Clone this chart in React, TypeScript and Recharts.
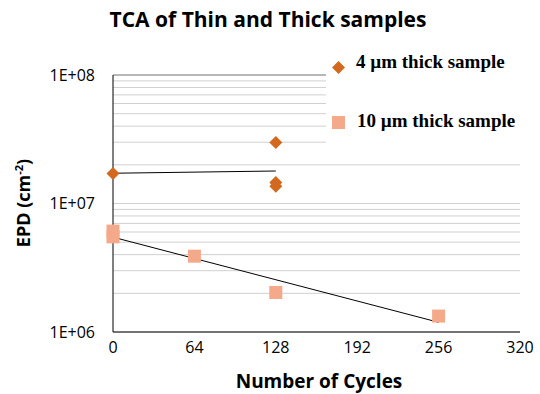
import { ComposedChart, Scatter, XAxis, YAxis, CartesianGrid, ReferenceLine } from 'recharts';

const thin = [
  { cycles: 0, epd: 1.71e7 },
  { cycles: 128, epd: 2.98e7 },
  { cycles: 128, epd: 1.46e7 },
  { cycles: 128, epd: 1.36e7 },
];

const thick = [
  { cycles: 0, epd: 6.1e6 },
  { cycles: 0, epd: 5.5e6 },
  { cycles: 64, epd: 3.89e6 },
  { cycles: 128, epd: 2.03e6 },
  { cycles: 256, epd: 1.33e6 },
];

// exponential trendlines, end points
const thinTrend = [
  { cycles: 0, epd: 1.72e7 },
  { cycles: 128, epd: 1.79e7 },
];

const thickTrend = [
  { cycles: 0, epd: 5.47e6 },
  { cycles: 256, epd: 1.19e6 },
];

const xTicks = [0, 64, 128, 192, 256, 320];
const yTicks = [
  1e6, 2e6, 3e6, 4e6, 5e6, 6e6, 7e6, 8e6, 9e6,
  1e7, 2e7, 3e7, 4e7, 5e7, 6e7, 7e7, 8e7, 9e7,
  1e8,
];

const THIN_COLOR = '#d2691e';
const THICK_COLOR = '#f4a98a';

const fmtY = (v: number) => {
  const e = Math.round(Math.log10(v));
  if (Math.abs(v - Math.pow(10, e)) > 1) return '';
  return `1E+${String(e).padStart(2, '0')}`;
};

const Diamond = (props: any) => {
  const { cx, cy } = props;
  const r = 6.5;
  return <polygon points={`${cx},${cy - r} ${cx + r},${cy} ${cx},${cy + r} ${cx - r},${cy}`} fill={THIN_COLOR} />;
};

const Square = (props: any) => {
  const { cx, cy } = props;
  const s = 13;
  return <rect x={cx - s / 2} y={cy - s / 2} width={s} height={s} fill={THICK_COLOR} />;
};

const Nothing = () => <g />;

export default function App() {
  return (
    <div style={{ position: 'absolute', left: 0, top: 0, width: 540, height: 394, background: '#fff', fontFamily: '"Open Sans", sans-serif' }}>
      <ComposedChart width={540} height={394} margin={{ top: 75, right: 20, left: 0, bottom: 0 }}>
        <CartesianGrid vertical={false} stroke="#d0d0d0" />
        <XAxis
          type="number"
          dataKey="cycles"
          domain={[0, 320]}
          ticks={xTicks}
          height={62}
          tickLine={false}
          axisLine={{ stroke: '#000' }}
          tick={{ fill: '#000', fontSize: 16 }}
          tickMargin={4}
          allowDuplicatedCategory={false}
        />
        <YAxis
          type="number"
          dataKey="epd"
          scale="log"
          domain={[1e6, 1e8]}
          ticks={yTicks}
          interval={0}
          tickFormatter={fmtY}
          width={113}
          tickLine={false}
          axisLine={{ stroke: '#000' }}
          tick={{ fill: '#000', fontSize: 16 }}
          tickMargin={12}
          allowDataOverflow
        />
        <ReferenceLine y={1e8} stroke="#888" />
        <Scatter data={thinTrend} shape={Nothing} line={{ stroke: '#000', strokeWidth: 1 }} isAnimationActive={false} />
        <Scatter data={thickTrend} shape={Nothing} line={{ stroke: '#000', strokeWidth: 1 }} isAnimationActive={false} />
        <Scatter data={thin} shape={Diamond} isAnimationActive={false} />
        <Scatter data={thick} shape={Square} isAnimationActive={false} />
      </ComposedChart>

      <div style={{ position: 'absolute', left: 0, top: 5, width: 536, textAlign: 'center', fontWeight: 700, fontSize: 21, color: '#000' }}>
        TCA of Thin and Thick samples
      </div>

      <div
        style={{
          position: 'absolute',
          left: 23,
          top: 203,
          transform: 'translate(-50%, -50%) rotate(-90deg)',
          whiteSpace: 'nowrap',
          fontWeight: 700,
          fontSize: 18,
          color: '#000',
        }}
      >
        EPD (cm<sup style={{ fontSize: 11 }}>-2</sup>)
      </div>

      <div style={{ position: 'absolute', left: 209, top: 368, width: 220, textAlign: 'center', fontWeight: 700, fontSize: 19, color: '#000' }}>
        Number of Cycles
      </div>

      <div
        style={{
          position: 'absolute',
          left: 326,
          top: 40,
          width: 214,
          height: 112,
          background: '#fff',
          fontFamily: '"Liberation Serif", serif',
          fontWeight: 700,
          fontSize: 19,
          color: '#000',
        }}
      >
        <div style={{ position: 'absolute', left: 6, top: 17, width: 13, height: 13 }}>
          <svg width={13} height={13}>
            <polygon points="6.5,0 13,6.5 6.5,13 0,6.5" fill={THIN_COLOR} />
          </svg>
        </div>
        <div style={{ position: 'absolute', left: 30, top: 11, whiteSpace: 'nowrap' }}>4 µm thick sample</div>
        <div style={{ position: 'absolute', left: 6, top: 76, width: 13, height: 13, background: THICK_COLOR }} />
        <div style={{ position: 'absolute', left: 31, top: 70, whiteSpace: 'nowrap' }}>10 µm thick sample</div>
      </div>
    </div>
  );
}
